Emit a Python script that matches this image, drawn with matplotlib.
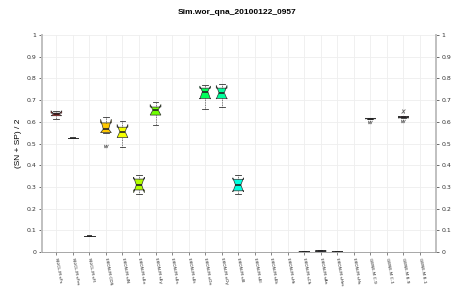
import numpy as np
import matplotlib
matplotlib.use('Agg')
import matplotlib.pyplot as plt
from matplotlib.colors import hsv_to_rgb

nan = float('nan')

categories = ['NUCL.M sFs', 'NUCL.M sFm', 'NUCL.M sFl', 'EKON.M CDS', 'EKON.M sIN',
              'EKON.M sEx', 'EKON.M sEy', 'EKON.M sEs', 'EKON.M sEt', 'EKON.M xOx',
              'EKON.M xOy', 'EKON.M sIII', 'EKON.M sEl', 'EKON.M sEk', 'EKON.M sHt',
              'EKON.M sCh', 'EKON.M sAs', 'EKON.M sHm', 'EKON.M sHs', 'GENE.M C.9',
              'GENE.M C.1', 'GENE.M E.9', 'GENE.M E.1']

medians = [0.635, 0.525, 0.075, 0.566, 0.554, 0.309, 0.654, nan, nan, 0.739, 0.734, 0.309,
           nan, nan, nan, 0.002, 0.004, 0.002, nan, 0.615, nan, 0.621, nan]
q1s = [0.628, 0.525, 0.075, 0.550, 0.527, 0.286, 0.631, nan, nan, 0.708, 0.708, 0.282,
       nan, nan, nan, 0.001, 0.002, 0.001, nan, 0.614, nan, 0.618, nan]
q3s = [0.640, 0.525, 0.075, 0.595, 0.575, 0.336, 0.668, nan, nan, 0.755, 0.755, 0.335,
       nan, nan, nan, 0.003, 0.006, 0.003, nan, 0.616, nan, 0.624, nan]
whisker_low = [0.615, 0.525, 0.075, 0.550, 0.485, 0.267, 0.585, nan, nan, 0.657, 0.667, 0.267,
               nan, nan, nan, 0.000, 0.000, 0.000, nan, 0.614, nan, 0.618, nan]
whisker_high = [0.648, 0.525, 0.075, 0.622, 0.605, 0.355, 0.693, nan, nan, 0.770, 0.774, 0.355,
                nan, nan, nan, 0.004, 0.008, 0.004, nan, 0.616, nan, 0.624, nan]
notch_low = [0.628, 0.525, 0.075, 0.550, 0.527, 0.273, 0.631, nan, nan, 0.705, 0.705, 0.277,
             nan, nan, nan, 0.001, 0.002, 0.001, nan, 0.614, nan, 0.618, nan]
notch_high = [0.651, 0.525, 0.075, 0.612, 0.588, 0.345, 0.680, nan, nan, 0.765, 0.768, 0.342,
              nan, nan, nan, 0.003, 0.006, 0.003, nan, 0.616, nan, 0.624, nan]
outliers_low = [[], [], [], [0.490], [], [], [], [], [], [], [], [],
                [], [], [], [], [], [], [], [0.600], [], [0.605], []]
outliers_high = [[], [], [], [], [], [], [], [], [], [], [], [],
                 [], [], [], [], [], [], [], [], [], [0.652], []]

n = len(categories)
colors = [hsv_to_rgb((i / n, 1.0, 1.0)) for i in range(n)]

fig = plt.figure(figsize=(4.6, 3.0), dpi=100)
ax = fig.add_axes([42 / 460, 1 - 252 / 300, (436 - 42) / 460, (252 - 35) / 300])

stats, pos, cols = [], [], []
for i in range(n):
    if np.isnan(medians[i]):
        continue
    stats.append(dict(med=medians[i], q1=q1s[i], q3=q3s[i], whislo=whisker_low[i],
                      whishi=whisker_high[i], cilo=notch_low[i], cihi=notch_high[i],
                      fliers=[]))
    pos.append(i)
    cols.append(colors[i])

res = ax.bxp(stats, positions=pos, widths=0.65, capwidths=0.35, shownotches=True,
             patch_artist=True, showfliers=False,
             boxprops=dict(linewidth=0.5, edgecolor='#333333'),
             whiskerprops=dict(linewidth=0.5, linestyle=(0, (1.2, 1.2)), color='#333333'),
             capprops=dict(linewidth=0.6, color='#333333'),
             medianprops=dict(linewidth=1.2, color='#222222'))
for patch, c in zip(res['boxes'], cols):
    patch.set_facecolor(c)

for i in range(n):
    for v in outliers_low[i]:
        ax.plot([i], [v], linestyle='none', marker='$w$', markersize=3,
                color='#555555', markeredgewidth=0.15)
    for v in outliers_high[i]:
        ax.plot([i], [v], linestyle='none', marker='$x$', markersize=3,
                color='#555555', markeredgewidth=0.15)

ax.set_xlim(-0.87, 22.97)
ax.set_ylim(0, 1)
yt = np.round(np.arange(0, 1.01, 0.1), 1)
ax.set_yticks(yt)
ax.set_yticklabels(['0' if v == 0 else ('1' if v == 1 else f'{v:g}') for v in yt])
ax.set_xticks(range(n))
ax.set_xticklabels(categories, rotation=-80, rotation_mode='anchor', ha='left', va='center',
                   fontsize=3.2, color='#222222')
ax.tick_params(axis='y', labelsize=4.5, length=2.5, width=0.5, colors='#333333',
               right=True, labelright=True, pad=1.5)
ax.tick_params(axis='x', length=2, width=0.5, colors='#555555', pad=2)
for lbl in ax.get_xticklabels():
    lbl.set_color('#222222')

ax.grid(True, color='#eeeeee', linewidth=0.6)
ax.set_axisbelow(True)
for s in ['left', 'right']:
    ax.spines[s].set_color('#c0c0c0')
    ax.spines[s].set_linewidth(1.4)
ax.spines['bottom'].set_color('#999999')
ax.spines['bottom'].set_linewidth(0.6)
ax.spines['top'].set_visible(False)

fig.text(237 / 460, 1 - 13 / 300, 'Sim.wor_qna_20100122_0957', ha='center', va='center',
         fontsize=6, fontweight='bold', family='Liberation Sans')
fig.text(18 / 460, 1 - 143 / 300, '(SN + SP) / 2', rotation=90, ha='center', va='center',
         fontsize=6, family='Liberation Sans')

fig.savefig('out.png', dpi=100)
